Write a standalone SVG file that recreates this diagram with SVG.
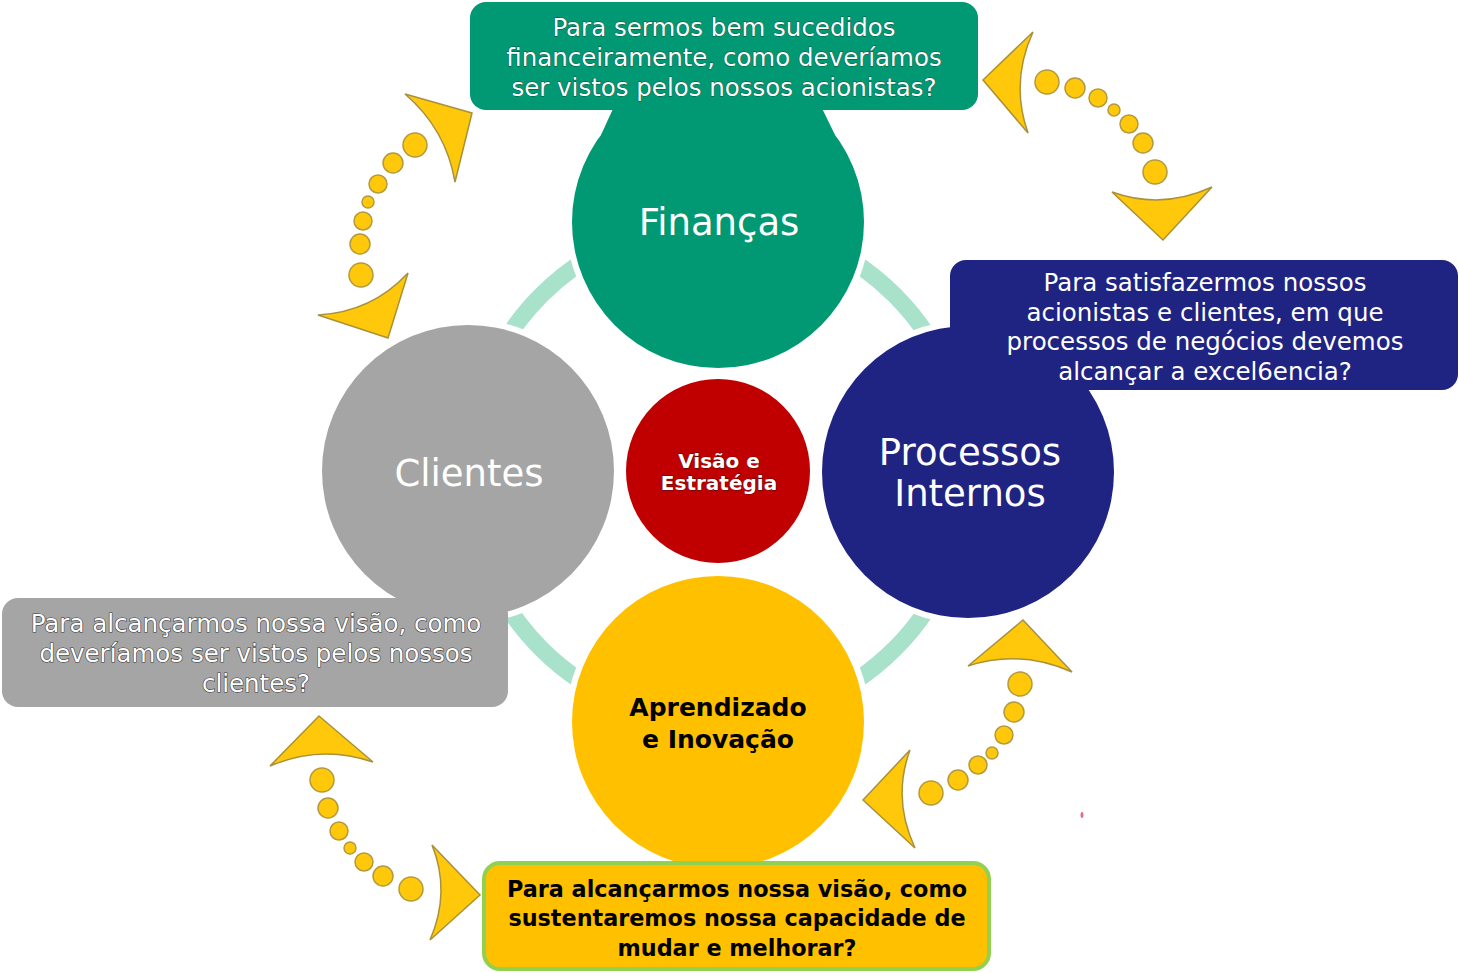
<svg xmlns="http://www.w3.org/2000/svg" width="1459" height="973" viewBox="0 0 1459 973">
<style>
  .ring { fill: none; stroke: #a9e2cb; stroke-width: 17; }
  .halo { fill: #ffffff; }
  .lbl { font-family: "DejaVu Sans", Verdana, sans-serif; text-anchor: middle; }
  .big { font-size: 37px; fill: #ffffff; }
  .q { font-size: 24.5px; fill: #ffffff; }
  .qb { font-size: 22.3px; font-weight: bold; fill: #000000; }
  .shadow { stroke: #3a3a3a; stroke-width: 1.2; paint-order: stroke; }
  .shadowg { stroke: #0b4a37; stroke-width: 0.8; paint-order: stroke; }
  .head { fill: #ffc80a; stroke: #a8913a; stroke-width: 1.5; stroke-linejoin: miter; }
  .dot { fill: #ffc80a; stroke: #b39a3c; stroke-width: 1.5; }
</style>

<rect x="0" y="0" width="1459" height="973" fill="#ffffff"/>

<g id="ring">
  <circle class="ring" cx="718" cy="472" r="250"/>
</g>

<g id="node-financas">
  <circle class="halo" cx="718" cy="222" r="152"/>
  <circle cx="718" cy="222" r="146" fill="#009973"/>
  <text class="lbl big" x="719" y="235">Finanças</text>
</g>

<g id="node-clientes">
  <circle class="halo" cx="468" cy="471" r="152"/>
  <circle cx="468" cy="471" r="146" fill="#a5a5a5"/>
  <text class="lbl big" x="469" y="486">Clientes</text>
</g>

<g id="node-processos">
  <circle class="halo" cx="968" cy="472" r="152"/>
  <circle cx="968" cy="472" r="146" fill="#1f2382"/>
  <text class="lbl big" x="970" y="465">Processos</text>
  <text class="lbl big" x="970" y="506">Internos</text>
</g>

<g id="node-aprendizado">
  <circle class="halo" cx="718" cy="722" r="152"/>
  <circle cx="718" cy="722" r="146" fill="#ffc000"/>
  <text class="lbl" x="718" y="716" font-size="25" font-weight="bold" fill="#000000">Aprendizado</text>
  <text class="lbl" x="718" y="748" font-size="25" font-weight="bold" fill="#000000">e Inovação</text>
</g>

<g id="node-visao">
  <circle cx="718" cy="471" r="92" fill="#c00000"/>
  <text class="lbl" x="719" y="468" font-size="20" font-weight="bold" fill="#ffffff" stroke="#3a1010" stroke-width="0.8" paint-order="stroke">Visão e</text>
  <text class="lbl" x="719" y="490" font-size="20" font-weight="bold" fill="#ffffff" stroke="#3a1010" stroke-width="0.8" paint-order="stroke">Estratégia</text>
</g>

<g id="box-financas">
  <polygon points="617,100 818,100 835,135 601,135" fill="#009973"/>
  <rect x="470" y="2" width="508" height="108" rx="16" fill="#009973"/>
  <text class="lbl q shadowg" x="724" y="36">Para sermos bem sucedidos</text>
  <text class="lbl q shadowg" x="724" y="66">financeiramente, como deveríamos</text>
  <text class="lbl q shadowg" x="724" y="96">ser vistos pelos nossos acionistas?</text>
</g>

<g id="box-processos">
  <rect x="950" y="260" width="508" height="130" rx="16" fill="#1f2382"/>
  <text class="lbl q" x="1205" y="291">Para satisfazermos nossos</text>
  <text class="lbl q" x="1205" y="321">acionistas e clientes, em que</text>
  <text class="lbl q" x="1205" y="350">processos de negócios devemos</text>
  <text class="lbl q" x="1205" y="380">alcançar a excel6encia?</text>
</g>

<g id="box-clientes">
  <rect x="2" y="598" width="506" height="109" rx="16" fill="#a5a5a5"/>
  <text class="lbl q shadow" x="256" y="632">Para alcançarmos nossa visão, como</text>
  <text class="lbl q shadow" x="256" y="662">deveríamos ser vistos pelos nossos</text>
  <text class="lbl q shadow" x="256" y="692">clientes?</text>
</g>

<g id="box-aprendizado">
  <rect x="484" y="863" width="505" height="106" rx="16" fill="#ffc000" stroke="#92d050" stroke-width="4"/>
  <text class="lbl qb" x="737" y="897">Para alcançarmos nossa visão, como</text>
  <text class="lbl qb" x="737" y="926">sustentaremos nossa capacidade de</text>
  <text class="lbl qb" x="737" y="956">mudar e melhorar?</text>
</g>

<g id="connectors">
  <!-- top-left: Clientes <-> Financas -->
  <path class="head" d="M472,113 L405,94 Q446,129 455,182 Z"/>
  <circle class="dot" cx="415" cy="145" r="12"/>
  <circle class="dot" cx="393" cy="163" r="10"/>
  <circle class="dot" cx="378" cy="184" r="9"/>
  <circle class="dot" cx="368" cy="202" r="6"/>
  <circle class="dot" cx="363" cy="221" r="9"/>
  <circle class="dot" cx="360" cy="244" r="10"/>
  <circle class="dot" cx="361" cy="275" r="12"/>
  <path class="head" d="M388,338 L318,315 Q372,312 408,273 Z"/>

  <!-- top-right: Financas <-> Processos -->
  <path class="head" d="M983,80 L1033,32 Q1010,82 1028,133 Z"/>
  <circle class="dot" cx="1047" cy="82" r="12"/>
  <circle class="dot" cx="1075" cy="88" r="10"/>
  <circle class="dot" cx="1098" cy="98" r="9"/>
  <circle class="dot" cx="1114" cy="110" r="6"/>
  <circle class="dot" cx="1129" cy="124" r="9"/>
  <circle class="dot" cx="1143" cy="143" r="10"/>
  <circle class="dot" cx="1155" cy="172" r="12"/>
  <path class="head" d="M1163,240 L1112,192 Q1162,210 1212,187 Z"/>

  <!-- bottom-right: Processos <-> Aprendizado -->
  <path class="head" d="M1023,620 L1072,672 Q1020,649 968,666 Z"/>
  <circle class="dot" cx="1020" cy="684" r="12"/>
  <circle class="dot" cx="1014" cy="712" r="10"/>
  <circle class="dot" cx="1004" cy="735" r="9"/>
  <circle class="dot" cx="992" cy="753" r="6"/>
  <circle class="dot" cx="978" cy="765" r="9"/>
  <circle class="dot" cx="958" cy="780" r="10"/>
  <circle class="dot" cx="931" cy="793" r="12"/>
  <path class="head" d="M863,800 L910,750 Q892,799 915,848 Z"/>

  <!-- bottom-left: Aprendizado <-> Clientes -->
  <path class="head" d="M319,716 L373,762 Q321,744 270,766 Z"/>
  <circle class="dot" cx="322" cy="780" r="12"/>
  <circle class="dot" cx="328" cy="808" r="10"/>
  <circle class="dot" cx="339" cy="831" r="9"/>
  <circle class="dot" cx="350" cy="848" r="6"/>
  <circle class="dot" cx="364" cy="862" r="9"/>
  <circle class="dot" cx="383" cy="876" r="10"/>
  <circle class="dot" cx="411" cy="889" r="12"/>
  <path class="head" d="M480,895 L430,940 Q451,892 432,845 Z"/>
</g>

<ellipse cx="1082" cy="815" rx="1.5" ry="3" fill="#e07080"/>
</svg>
